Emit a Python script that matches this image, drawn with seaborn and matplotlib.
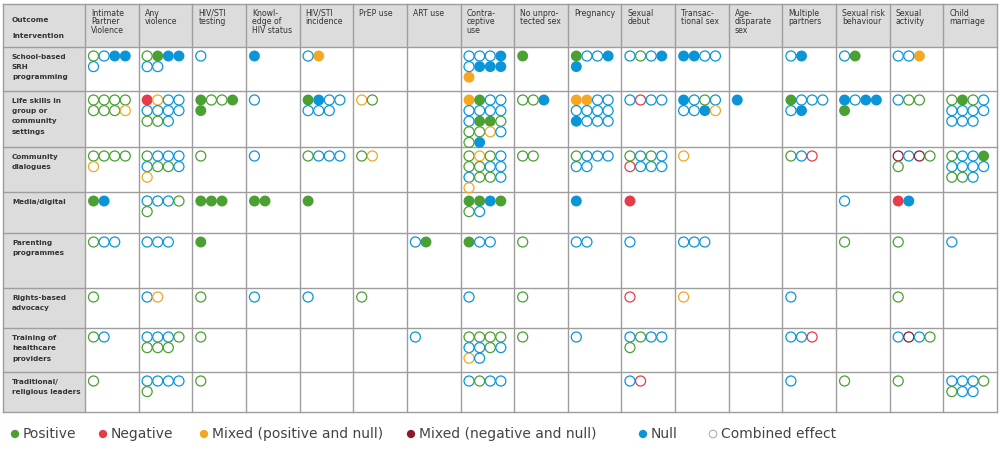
import pandas as pd
import seaborn as sns
from matplotlib import pyplot as plt
from matplotlib.patches import Rectangle

outcomes = ['Intimate\nPartner\nViolence', 'Any\nviolence', 'HIV/STI\ntesting',
            'Knowl-\nedge of\nHIV status', 'HIV/STI\nincidence', 'PrEP use', 'ART use',
            'Contra-\nceptive\nuse', 'No unpro-\ntected sex', 'Pregnancy', 'Sexual\ndebut',
            'Transac-\ntional sex', 'Age-\ndisparate\nsex', 'Multiple\npartners',
            'Sexual risk\nbehaviour', 'Sexual\nactivity', 'Child\nmarriage']

interventions = ['School-based\nSRH\nprogramming', 'Life skills in\ngroup or\ncommunity\nsettings',
                 'Community\ndialogues', 'Media/digital', 'Parenting\nprogrammes',
                 'Rights-based\nadvocacy', 'Training of\nhealthcare\nproviders',
                 'Traditional/\nreligious leaders']

# one string per cell, one letter per study:
# G/R/O/M/B = positive/negative/mixed+/mixed-/null, lower case = combined effect
school = ['gbBBb', 'gGBBbb', 'b', 'B', 'bO', '', '', 'bbbBbBBBO', 'G', 'GbbBB',
          'bgbB', 'BBbb', '', 'bB', 'bG', 'bbO', '']
life = ['gggggggo', 'Robbbbbbggb', 'GggGG', 'b', 'GBbbbbb', 'og', '',
        'OGbbbbbbbGGgggobgB', 'ggB', 'OObbbbbbBbbb', 'brbb', 'BbgbbbBo', 'B',
        'GbbbbB', 'BbBBG', 'bgg', 'gGgbbbbbbbb']
community = ['ggggo', 'gbbbbggbo', 'g', 'b', 'gbbb', 'go', '', 'gogbggbbbggbo', 'gg',
             'gbbbbb', 'gbgbrbbb', 'o', '', 'gbr', '', 'mbmgg', 'gbbGbbbbggb']
media = ['GB', 'bbbgg', 'GGG', 'GG', 'G', '', '', 'GGBGgb', '', 'B', 'R', '', '', '',
         'b', 'RB', '']
parenting = ['gbb', 'bbb', 'G', '', '', '', 'bG', 'Gbb', 'g', 'bb', 'b', 'bbb', '', '',
             'g', 'g', 'b']
rights = ['g', 'bo', 'g', 'b', 'b', 'g', '', 'b', 'g', '', 'r', 'o', '', 'b', '', 'g', '']
training = ['gb', 'bbbgggg', 'g', '', '', '', 'b', 'ggggbbgbob', 'g', 'b', 'bgbbg', '',
            '', 'bbr', '', 'bmbg', '']
traditional = ['g', 'bbbbg', 'g', '', '', '', '', 'bgbb', '', '', 'br', '', '', 'b', 'g',
               'g', 'bbbggbb']
cells = [school, life, community, media, parenting, rights, training, traditional]

legend_labels = ['Positive', 'Negative', 'Mixed (positive and null)',
                 'Mixed (negative and null)', 'Null', 'Combined effect']

effect_names = {'G': 'Positive', 'R': 'Negative', 'O': 'Mixed (positive and null)',
                'M': 'Mixed (negative and null)', 'B': 'Null'}
palette = {'Positive': '#4aa032', 'Negative': '#e63c4a',
           'Mixed (positive and null)': '#f5a623',
           'Mixed (negative and null)': '#8a1c2a', 'Null': '#0b95d9',
           'Combined effect': '#b0b0b0'}

# table geometry in pixels
left, first_w, right = 3, 82, 997
col_w = (right - left - first_w) / len(outcomes)
row_edges = [4, 47, 91, 147, 192, 233, 288, 328, 372, 412]
col_edges = [left, left + first_w] + [left + first_w + col_w * (i + 1) for i in range(len(outcomes))]
step = 10.6

records = []
for r, row in enumerate(cells):
    for c, cell in enumerate(row):
        for k, ch in enumerate(cell):
            records.append({
                'x': col_edges[c + 1] + 8.5 + (k % 4) * step,
                'y': row_edges[r + 1] + 9 + (k // 4) * step,
                'effect': effect_names[ch.upper()],
                'filled': ch.isupper()})
df = pd.DataFrame(records)

fig = plt.figure(figsize=(10.02, 4.51), dpi=100)
ax = fig.add_axes([0, 0, 1, 1])

grid_c = '#9e9e9e'
# gray header row and label column
ax.add_patch(Rectangle((left, row_edges[0]), right - left, row_edges[1] - row_edges[0],
                       facecolor='#dcdcdc', edgecolor='none', zorder=0))
ax.add_patch(Rectangle((left, row_edges[1]), first_w, row_edges[-1] - row_edges[1],
                       facecolor='#dcdcdc', edgecolor='none', zorder=0))
for y in row_edges:
    ax.plot([left, right], [y, y], color=grid_c, lw=1, zorder=1)
for x in col_edges:
    ax.plot([x, x], [row_edges[0], row_edges[-1]], color=grid_c, lw=1, zorder=1)

txt_c = '#333333'
ax.text(left + 9, 20, 'Outcome', fontsize=5.3, color=txt_c, va='center', fontweight='semibold')
ax.text(left + 9, 36, 'Intervention', fontsize=5.3, color=txt_c, va='center', fontweight='semibold')
for c, name in enumerate(outcomes):
    ax.text(col_edges[c + 1] + 6, 8.5, name, fontsize=5.6, color=txt_c, va='top',
            linespacing=0.95)
for r, name in enumerate(interventions):
    ax.text(left + 9, row_edges[r + 1] + 7, name, fontsize=5.2, color=txt_c, va='top',
            fontweight='semibold', linespacing=1.85)

sns.scatterplot(data=df[df['filled']], x='x', y='y', hue='effect', palette=palette,
                s=62, linewidth=0, legend=False, ax=ax, zorder=3)
sns.scatterplot(data=df[~df['filled']], x='x', y='y', hue='effect', palette=palette,
                s=52, legend=False, ax=ax, zorder=3)
coll = ax.collections[-1]
coll.set_edgecolors(coll.get_facecolors())
coll.set_facecolors('none')
coll.set_linewidth(0.9)

# legend row
leg_x = [15, 103, 204, 411, 643, 713]
leg_df = pd.DataFrame({'x': leg_x, 'y': [434] * 6, 'effect': legend_labels})
sns.scatterplot(data=leg_df.iloc[:5], x='x', y='y', hue='effect', palette=palette,
                s=36, linewidth=0, legend=False, ax=ax, zorder=3)
sns.scatterplot(data=leg_df.iloc[5:], x='x', y='y', hue='effect', palette=palette,
                s=30, legend=False, ax=ax, zorder=3)
coll = ax.collections[-1]
coll.set_edgecolors(coll.get_facecolors())
coll.set_facecolors('none')
coll.set_linewidth(0.8)
for x, lab in zip(leg_x, legend_labels):
    ax.text(x + 8, 434, lab, fontsize=10, color='#444444', va='center')

ax.set_xlim(0, 1002)
ax.set_ylim(451, 0)
ax.axis('off')
fig.savefig('out.png', dpi=100)
plt.close(fig)
